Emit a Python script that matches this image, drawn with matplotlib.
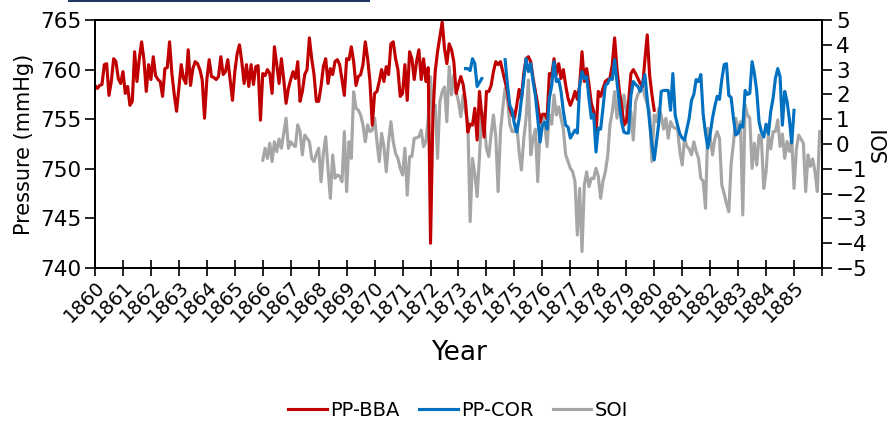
import numpy as np
import matplotlib
matplotlib.use("Agg")
import matplotlib.pyplot as plt
from matplotlib.patches import Rectangle

plt.rcParams['font.family'] = ['DejaVu Sans']

# ---------------- data (monthly) ----------------
start_year = 1860
years = list(range(1860, 1886))
tick_labels = [str(y) for y in years]

# PP-BBA pressure (mmHg), Jan 1860 .. Jan 1880
pp_bba_start = 0
pp_bba = [
    758.4, 758.1, 758.4, 758.5, 760.5, 760.6, 757.4, 758.8, 761.1, 760.8, 759.1, 758.6,
    759.8, 757.6, 758.3, 756.4, 756.8, 761.8, 758.8, 761.1, 762.8, 761.0, 757.8, 760.5,
    759.0, 761.3, 759.4, 759.0, 758.8, 757.3, 760.1, 760.2, 762.8, 759.6, 757.5, 755.8,
    758.1, 760.5, 759.1, 758.6, 762.0, 758.4, 760.1, 760.8, 760.6, 760.0, 759.0, 755.1,
    759.0, 761.0, 759.3, 759.2, 759.0, 759.3, 761.3, 759.5, 759.8, 761.0, 759.0, 756.9,
    759.8, 761.6, 762.5, 760.8, 758.6, 760.5, 758.3, 760.5, 758.5, 760.3, 760.4, 754.9,
    759.6, 759.4, 760.0, 759.6, 757.6, 762.3, 760.5, 758.6, 761.1, 759.0, 756.6, 758.1,
    759.0, 759.8, 759.1, 760.8, 756.8, 757.8, 759.5, 760.0, 763.2, 761.1, 759.5, 756.8,
    756.8, 758.3, 760.3, 761.1, 758.6, 760.1, 759.5, 760.8, 761.0, 760.5, 759.0, 757.4,
    761.1, 761.0, 762.3, 760.8, 758.4, 759.3, 759.5, 760.5, 762.8, 761.1, 758.8, 754.4,
    757.6, 757.8, 758.8, 760.0, 758.8, 760.3, 759.5, 762.6, 762.8, 761.1, 760.0, 757.3,
    757.6, 760.5, 756.9, 761.8, 761.1, 759.0, 760.8, 762.0, 759.0, 761.1, 758.8, 760.2,
    742.5, 755.3, 759.8, 761.8, 763.3, 764.8, 762.1, 760.6, 762.6, 762.0, 760.8, 757.6,
    758.5, 759.3, 758.5, 756.8, 753.7, 754.5, 754.4, 756.1, 752.9, 757.8, 755.4, 753.2,
    757.8, 757.8, 758.4, 759.8, 760.8, 760.5, 760.8, 759.8, 758.8, 757.8, 756.1, 755.4,
    755.1, 756.4, 758.0, 757.0, 759.6, 761.1, 761.3, 760.8, 759.1, 757.8, 756.5, 754.7,
    755.5, 755.5, 755.0, 759.6, 759.4, 761.1, 759.5, 760.6, 759.1, 760.0, 758.4, 757.1,
    756.4, 757.0, 757.8, 757.0, 758.4, 761.8, 758.8, 760.1, 758.5, 756.6, 755.8, 753.4,
    757.8, 757.3, 758.1, 758.8, 759.0, 759.1, 760.5, 763.2, 760.1, 757.9, 756.4, 754.4,
    754.7, 756.8, 759.6, 760.0, 759.6, 759.1, 758.6, 758.3, 761.0, 763.5, 759.5, 757.5,
    755.9,
]

# PP-COR pressure (mmHg), Apr 1873 .. Jan 1885 (nan = gap)
nan = np.nan
pp_cor_start = 159
pp_cor = [
    760.1, 760.1, 759.9, 761.1, 760.6, 758.3, 758.7, 759.1,
    nan, nan, nan, nan, nan, nan, nan, nan, nan,
    761.0, 758.5, 756.4, 755.9,
    754.5, 753.7, 755.0, 757.0, 759.0, 761.1, 759.8, 760.6, 758.8, 757.4, 755.1, 752.7,
    754.4, 754.7, 754.0, 757.1, 758.4, 760.8, 758.8, 759.0, 757.8, 755.8, 754.4, 754.2,
    753.1, 753.5, 753.9, 753.6, 758.4, 759.8, 759.1, 759.3, 757.1, 755.1, 755.5, 751.7,
    754.1, 754.0, 756.1, 758.4, 758.6, 759.1, 759.0, 761.0, 758.8, 756.6, 754.7, 753.7,
    753.6, 753.6, 757.4, 758.8, 758.5, 758.3, 757.8, 758.5, 759.5, 757.0, 754.7, 752.4,
    750.9, 752.8, 754.7, 757.8, 757.9, 757.9, 757.9, 755.9, 759.6, 755.4, 754.4, 753.5,
    753.1, 752.9, 754.0, 755.1, 756.9, 757.5, 759.0, 758.8, 759.5, 755.5, 753.6, 752.1,
    753.5, 755.1, 756.3, 757.3, 757.0, 759.0, 760.5, 760.6, 757.4, 757.2, 755.1, 753.4,
    753.6, 754.4, 754.2, 757.9, 757.5, 757.6, 760.8, 759.6, 757.8, 754.7, 753.7, 753.2,
    754.5, 753.5, 755.8, 757.1, 759.1, 760.1, 759.3, 754.4, 757.8, 756.8, 755.0, 752.6,
    755.9,
]

# SOI, Jan 1866 .. Dec 1885
soi_start = 72
soi = [
    -0.65, -0.17, -0.58, 0.03, -0.71, 0.09, -0.31, 0.2, -0.17, 0.43, 1.04, -0.17,
    0.09, -0.04, -0.1, 0.77, 0.5, -0.44, 0.36, 0.23, 0.1, -0.58, -0.71, -0.4,
    -0.17, -1.52, -0.38, 0.29, -1.0, -2.19, -0.44, -1.38, -1.25, -1.3, -1.52, 0.5,
    -1.92, 0.09, -0.58, 2.11, 1.44, 1.37, 1.17, 0.77, 0.09, 0.77, 0.5, 0.56,
    1.04, 0.09, -0.71, 0.43, -0.11, -1.12, 0.09, 0.9, 0.09, -0.38, -0.58, -0.98,
    -1.25, -0.17, -2.06, -0.51, -0.5, 0.23, 0.25, 0.29, 0.56, -0.11, 0.09, 1.04,
    2.71, 1.17, 1.57, -0.58, 1.71, 2.11, 2.3, 0.9, 3.12, 1.98, 2.78, 2.11,
    1.71, 1.1, 1.98, 1.3, 0.9, -3.13, -0.58, -1.2, -2.12, -0.5, 1.3, 0.8,
    -0.17, -0.51, 0.4, 1.17, 0.3, -1.92, 0.5, 1.44, 2.25, 1.8, 0.8, 0.5,
    0.5, 0.8, -0.31, -1.05, 0.2, 1.04, 2.58, -0.44, 0.2, 0.6, -1.52, 0.63,
    1.17, 0.77, -0.11, 1.17, 0.8, 1.98, 1.17, 1.5, 1.04, 0.6, -0.44, -0.7,
    -0.98, -1.12, -1.52, -3.67, -1.79, -4.34, -1.65, -1.12, -1.72, -1.38, -1.4, -0.98,
    -1.3, -2.19, -1.5, -1.12, -0.51, 0.77, 1.3, 2.11, 1.04, 1.77, 1.2, 1.98,
    1.3, 1.3, 1.3, 0.16, 1.71, 2.0, 2.18, 2.31, 1.91, 1.6, 1.3, -0.71,
    1.17, 0.9, 1.44, 1.17, 0.6, 1.04, 0.23, 0.9, 0.7, 0.63, 0.6, -0.31,
    -0.85, 0.23, -0.1, -0.2, -0.44, 0.09, -0.3, -0.58, -1.38, -1.5, -2.59, 0.63,
    0.3, -0.44, 0.2, 0.5, 0.23, -1.65, -2.0, -2.4, -2.73, -0.8, 0.03, 1.04,
    0.5, 0.9, -2.86, 1.57, 1.17, 1.04, -0.98, 0.03, -0.85, 0.36, 0.2, -1.79,
    -1.12, 0.36, -0.2, 0.5, 0.5, 0.97, -0.1, 0.4, -0.58, 0.1, -0.3, 0.23,
    -1.79, -0.2, 0.36, 0.2, 0.03, -1.92, -0.44, -0.9, -0.6, -1.12, -1.92, 0.5,
]

def month_x(start, n):
    return start_year + (start + np.arange(n)) / 12.0

# ---------------- figure ----------------
W, H = 890, 422
fig = plt.figure(figsize=(W / 100, H / 100), dpi=100)
L, R, T, B = 95, 822, 20, 268
ax = fig.add_axes([L / W, 1 - B / H, (R - L) / W, (B - T) / H])
ax2 = ax.twinx()

ax.set_zorder(2)
ax.patch.set_visible(False)
ax2.set_zorder(1)

c_red, c_blue, c_gray = '#C00000', '#0070C0', '#A6A6A6'
lw = 2.25

l3, = ax2.plot(month_x(soi_start, len(soi)), soi, color=c_gray, lw=lw, label='SOI')
l1, = ax.plot(month_x(pp_bba_start, len(pp_bba)), pp_bba, color=c_red, lw=lw, label='PP-BBA')
l2, = ax.plot(month_x(pp_cor_start, len(pp_cor)), pp_cor, color=c_blue, lw=lw, label='PP-COR')

ax.set_xlim(1860, 1886)
ax.set_ylim(740, 765)
ax2.set_ylim(-5, 5)
ax.set_yticks(np.arange(740, 766, 5))
ax2.set_yticks(np.arange(-5, 6, 1))

ax.set_xticks(np.arange(1860, 1887, 1))
ax.set_xticklabels(tick_labels + [''], rotation=45, ha='right', rotation_mode='anchor')

fs = 15.5
ax.tick_params(axis='y', labelsize=fs, direction='out', length=7, width=1.2, pad=3)
ax.tick_params(axis='x', labelsize=14, direction='inout', length=12, width=1.2, pad=1)
ax2.tick_params(axis='y', labelsize=fs, direction='out', length=7, width=1.2, pad=3)

for a in (ax, ax2):
    for s in a.spines.values():
        s.set_linewidth(1.3)
        s.set_color('black')

ax.set_ylabel('Pressure (mmHg)', fontsize=15, labelpad=4)
ax2.set_ylabel('SOI', fontsize=15, labelpad=2)
ax.set_xlabel('Year', fontsize=19, labelpad=10)

fig.legend(handles=[l1, l2, l3], labels=['PP-BBA', 'PP-COR', 'SOI'],
           loc='center', bbox_to_anchor=(458 / W, 1 - 410 / H), ncol=3,
           frameon=False, fontsize=14, handlelength=2.0, handletextpad=0.15,
           columnspacing=1.0)

# dark line at top edge of the picture
fig.add_artist(Rectangle((68 / W, 1 - 2 / H), 302 / W, 2 / H,
                         transform=fig.transFigure, color='#1F3864', lw=0))

fig.savefig('out.png', dpi=100)
